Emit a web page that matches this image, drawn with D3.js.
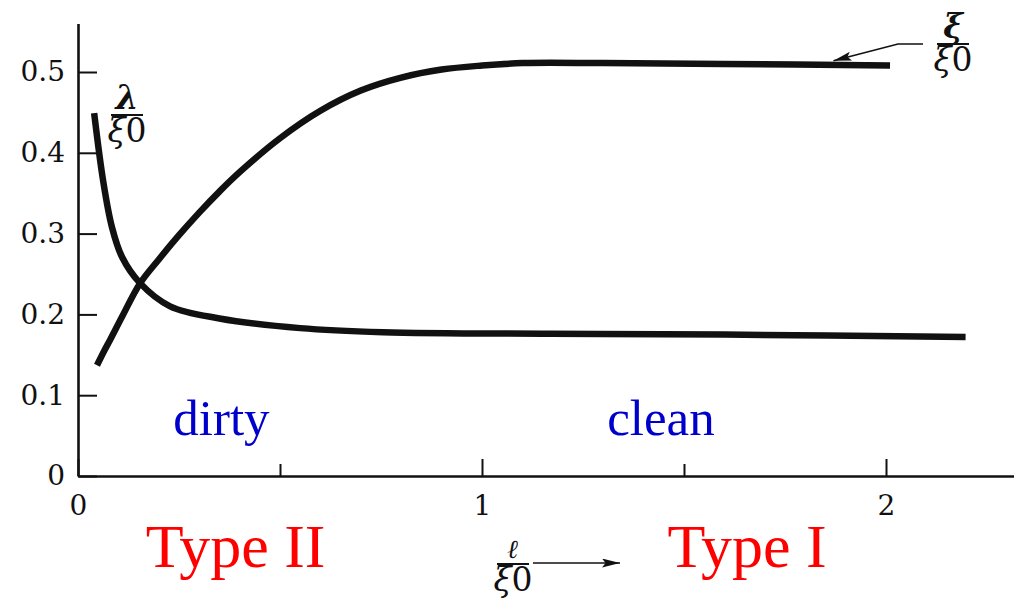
<!DOCTYPE html>
<html>
<head>
<meta charset="utf-8">
<script src="https://cdn.jsdelivr.net/npm/d3@7"></script>
<style>
body { margin: 0; background: #fff; }
svg { display: block; }
</style>
</head>
<body>
<svg></svg>
<script>
/*global d3*/

// ξ/ξ0 (rising curve)
let ellXi = [0.047, 0.065, 0.08, 0.11, 0.153, 0.2, 0.25, 0.3, 0.35, 0.4, 0.5, 0.6, 0.7, 0.8, 0.9, 1.0, 1.1, 1.3, 1.6, 2.01];
let xiVals = [0.137, 0.155, 0.169, 0.198, 0.238, 0.268, 0.298, 0.326, 0.352, 0.376, 0.418, 0.452, 0.477, 0.493, 0.503, 0.508, 0.511, 0.511, 0.51, 0.508];

// λ/ξ0 (falling curve)
let ellLam = [0.04, 0.062, 0.084, 0.109, 0.153, 0.228, 0.35, 0.55, 0.755, 1.17, 1.6, 2.197];
let lamVals = [0.449, 0.366, 0.308, 0.271, 0.239, 0.21, 0.195, 0.183, 0.178, 0.176, 0.175, 0.172];

// ticks
let yTicks = [0, 0.1, 0.2, 0.3, 0.4, 0.5];
let xTicks = [0, 0.5, 1, 1.5, 2];
let xLabels = { 0: '0', 1: '1', 2: '2' };

// regime labels
let regimes = [
    { text: 'dirty', at: 0.355, row: 'blue' },
    { text: 'clean', at: 1.443, row: 'blue' },
    { text: 'Type II', at: 0.39, row: 'red' },
    { text: 'Type I', at: 1.656, row: 'red' }
];

let width = 1014;
let height = 599;

let svg = d3.select('svg')
    .attr('width', width)
    .attr('height', height);

// scales
let x = d3.scaleLinear().domain([0, 2.32]).range([78, 78 + 2.32 * 404]);
let y = d3.scaleLinear().domain([0, 0.56]).range([476, 476 - 0.56 * 808]);

let serif = 'DejaVu Serif, serif';
let times = 'Liberation Serif, Times New Roman, serif';

// y axis, ticks pointing inward
let yAxis = svg.append('g')
    .attr('transform', 'translate(' + x(0) + ',0)')
    .call(d3.axisLeft(y)
        .tickValues(yTicks)
        .tickSize(-19)
        .tickSizeOuter(0)
        .tickPadding(13)
        .tickFormat(d => d === 0 ? '0' : d3.format('.1f')(d)));

yAxis.select('.domain').attr('stroke', '#111').attr('stroke-width', 2.6);
yAxis.selectAll('.tick line').attr('stroke', '#111').attr('stroke-width', 2);
yAxis.selectAll('.tick text')
    .attr('fill', '#111')
    .style('font-family', serif)
    .style('font-size', '28px');

// x axis
let xAxis = svg.append('g')
    .attr('transform', 'translate(0,' + y(0) + ')')
    .call(d3.axisBottom(x)
        .tickValues(xTicks)
        .tickSize(-17)
        .tickSizeOuter(0)
        .tickPadding(19)
        .tickFormat(d => xLabels[d] || ''));

xAxis.select('.domain').attr('stroke', '#111').attr('stroke-width', 2.6);
xAxis.selectAll('.tick line')
    .attr('stroke', '#111')
    .attr('stroke-width', 2)
    .attr('y2', d => Number.isInteger(d) ? -17 : -12);
xAxis.selectAll('.tick text')
    .attr('fill', '#111')
    .style('font-family', serif)
    .style('font-size', '28px');

// curves
let line = d3.line()
    .x(d => x(d[0]))
    .y(d => y(d[1]))
    .curve(d3.curveCatmullRom.alpha(0.5));

let curves = [
    d3.zip(ellXi, xiVals),
    d3.zip(ellLam, lamVals)
];

svg.append('g')
    .selectAll('path')
    .data(curves)
    .enter()
    .append('path')
    .attr('d', line)
    .attr('fill', 'none')
    .attr('stroke', '#111')
    .attr('stroke-width', 6.5);

// arrow heads
let defs = svg.append('defs');
defs.append('marker')
    .attr('id', 'head')
    .attr('markerUnits', 'userSpaceOnUse')
    .attr('viewBox', '0 0 20 10')
    .attr('refX', 20)
    .attr('refY', 5)
    .attr('markerWidth', 22)
    .attr('markerHeight', 9)
    .attr('orient', 'auto')
    .append('path')
    .attr('d', 'M0,0L20,5L0,10L4,5Z')
    .attr('fill', '#111');

// fraction label helper
function fraction(cx, top, numer, size, numSize) {
    let g = svg.append('g')
        .style('font-family', serif)
        .attr('fill', '#111');
    g.append('text')
        .attr('x', cx)
        .attr('y', top)
        .attr('text-anchor', 'middle')
        .style('font-size', (numSize || size) + 'px')
        .style('font-style', 'italic')
        .style('font-weight', 'bold')
        .text(numer);
    g.append('line')
        .attr('x1', cx - 16)
        .attr('x2', cx + 16)
        .attr('y1', top + 6)
        .attr('y2', top + 6)
        .attr('stroke', '#111')
        .attr('stroke-width', 2);
    let den = g.append('text')
        .attr('x', cx)
        .attr('y', top + 33)
        .attr('text-anchor', 'middle')
        .style('font-size', size + 'px');
    den.append('tspan').style('font-style', 'italic').text('ξ');
    den.append('tspan').text('0');
}

fraction(127, 109, 'λ', 33);
fraction(953, 38, 'ξ', 33);
fraction(513, 558, 'ℓ', 33, 26);

// leader from ξ/ξ0 label to the rising curve
let tip = [x(1.87), y(0.509) - 4];
svg.append('path')
    .attr('d', 'M923,44L898,44L' + tip[0] + ',' + tip[1])
    .attr('fill', 'none')
    .attr('stroke', '#111')
    .attr('stroke-width', 1.6)
    .attr('marker-end', 'url(#head)');

// ℓ/ξ0 arrow
svg.append('line')
    .attr('x1', 533)
    .attr('x2', 620)
    .attr('y1', 563)
    .attr('y2', 563)
    .attr('stroke', '#111')
    .attr('stroke-width', 1.6)
    .attr('marker-end', 'url(#head)');

// regime labels
svg.append('g')
    .selectAll('text')
    .data(regimes)
    .enter()
    .append('text')
    .attr('x', d => x(d.at))
    .attr('y', d => d.row === 'blue' ? 435 : 567)
    .attr('text-anchor', 'middle')
    .attr('fill', d => d.row === 'blue' ? '#0000cc' : '#ff0000')
    .style('font-family', times)
    .style('font-size', d => d.row === 'blue' ? '51px' : '62px')
    .text(d => d.text);
</script>
</body>
</html>
